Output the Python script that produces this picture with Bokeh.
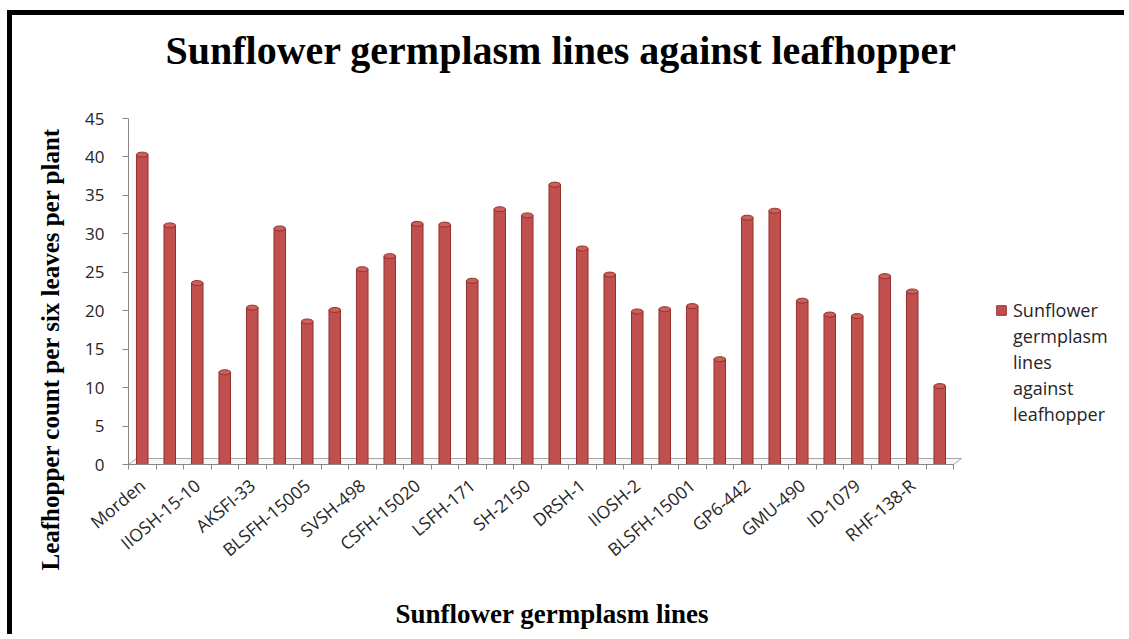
import math
from bokeh.plotting import figure
from bokeh.models import (ColumnDataSource, FixedTicker, Range1d, Legend, LegendItem, Title)
from bokeh.embed import file_html
from bokeh.resources import INLINE

# ---- data ----
line_labels = ["Morden", "IIOSH-15-10", "AKSFI-33", "BLSFH-15005", "SVSH-498",
               "CSFH-15020", "LSFH-171", "SH-2150", "DRSH-1", "IIOSH-2",
               "BLSFH-15001", "GP6-442", "GMU-490", "ID-1079", "RHF-138-R"]
counts = [40.3, 31.1, 23.6, 12.0, 20.4, 30.7, 18.6, 20.1, 25.4, 27.1,
          31.3, 31.2, 23.9, 33.2, 32.4, 36.4, 28.1, 24.7, 19.9, 20.2,
          20.6, 13.7, 32.1, 33.0, 21.3, 19.5, 19.3, 24.5, 22.5, 10.2]
y_ticks = [0, 5, 10, 15, 20, 25, 30, 35, 40, 45]
series_name = "Sunflower germplasm lines against leafhopper"
x_title = "Sunflower germplasm lines"
y_title = "Leafhopper count per six leaves per plant"

n = len(counts)
xs = list(range(1, n + 1))
src = ColumnDataSource(dict(x=xs, y=counts))

# layout (canvas is offset by the CSS margin + border: 7+5, 10+5)
W, H = 1117, 624
LEFT, TOP, BOTTOM = 116, 103, 175
AXIS_W = 825                      # pixel length of the category axis
FRAME_H = H - TOP - BOTTOM
Y_MAX = y_ticks[-1]
frame_w = W - LEFT
x_end = 0.5 + n * frame_w / AXIS_W  # frame also hosts the legend on the right

p = figure(width=W, height=H, output_backend="svg", toolbar_location=None,
           x_range=Range1d(0.5, x_end), y_range=Range1d(0, Y_MAX),
           min_border_left=LEFT, min_border_right=0, min_border_top=TOP,
           min_border_bottom=BOTTOM, title=None)
p.margin = (10, 0, 0, 7)
p.styles = {"border-top": "5px solid black", "border-left": "5px solid black"}
p.outline_line_color = None
p.grid.visible = False
p.background_fill_color = "white"
p.border_fill_color = "white"

# 3-D floor outline (depth of 8 px right, 6 px up)
dx = 8 * n / AXIS_W
dy = 6 * Y_MAX / FRAME_H
p.patch(x=[0.5, n + 0.5, n + 0.5 + dx, 0.5 + dx], y=[0, 0, dy, dy],
        fill_color="#F2F2F2", fill_alpha=0.6, line_color="#A6A6A6", line_width=1)

BAR = "#C0504D"
EDGE = "#96302D"
bars = p.vbar(x="x", top="y", width=0.42, bottom=0, source=src,
              fill_color=BAR, line_color=EDGE, line_width=1)
p.ellipse(x="x", y="y", width=0.42, height=5, height_units="screen", source=src,
          fill_color="#C9605C", line_color=EDGE, line_width=1)
# invisible renderer used only for the wrapped legend lines
ghost = p.vbar(x=[], top=[], width=0.42, fill_alpha=0, line_alpha=0)

# title (spacer first so that the title sits higher)
p.add_layout(Title(text=" ", text_font_size="10px", standoff=33), "above")
p.add_layout(Title(text=series_name, align="left", offset=37, standoff=0,
                   text_font="Liberation Serif", text_font_size="40px",
                   text_font_style="bold", text_color="black"), "above")

# x axis
tick_pos = xs[0::2]
xa = p.xaxis[0]
xa.bounds = (0.5, n + 0.5)
xa.ticker = FixedTicker(ticks=tick_pos, minor_ticks=[i + 0.5 for i in range(0, n + 1)])
xa.major_label_overrides = {t: lab for t, lab in zip(tick_pos, line_labels)}
xa.major_label_orientation = 0.70
xa.major_tick_out = 0
xa.major_tick_in = 0
xa.minor_tick_out = 5
xa.minor_tick_in = 0
xa.minor_tick_line_color = "#868686"
xa.axis_line_color = "#868686"
xa.major_label_text_font = "Open Sans"
xa.major_label_text_font_size = "17.5px"
xa.major_label_text_color = "#262626"
xa.major_label_standoff = 13
xa.axis_label = None
p.add_layout(Title(text=" ", text_font_size="10px", standoff=10), "below")
p.add_layout(Title(text=x_title, align="left", offset=267, standoff=0,
                   text_font="Liberation Serif", text_font_size="27px",
                   text_font_style="bold", text_color="black"), "below")

# y axis
ya = p.yaxis[0]
ya.ticker = FixedTicker(ticks=y_ticks)
ya.major_tick_out = 6
ya.major_tick_in = 0
ya.minor_tick_out = 0
ya.minor_tick_in = 0
ya.axis_line_color = "#868686"
ya.major_tick_line_color = "#868686"
ya.major_label_text_font = "Open Sans"
ya.major_label_text_font_size = "17px"
ya.major_label_text_color = "#262626"
ya.major_label_standoff = 18
ya.axis_label = None
p.add_layout(Title(text=y_title, align="left", offset=-106, standoff=37,
                   text_font="Liberation Serif", text_font_size="25px",
                   text_font_style="bold", text_color="black"), "left")

words = series_name.split(" ")
items = [LegendItem(label=words[0], renderers=[bars])]
items += [LegendItem(label=w, renderers=[ghost]) for w in words[1:]]
legend = Legend(items=items, location=(867, 37), padding=0, margin=0, spacing=0,
                border_line_color=None, background_fill_alpha=0,
                glyph_width=12, glyph_height=12, label_standoff=6, label_height=26,
                label_text_font="Open Sans", label_text_font_size="18px",
                label_text_color="#262626")
p.add_layout(legend, "center")

open("out.html", "w").write(file_html(p, INLINE))
